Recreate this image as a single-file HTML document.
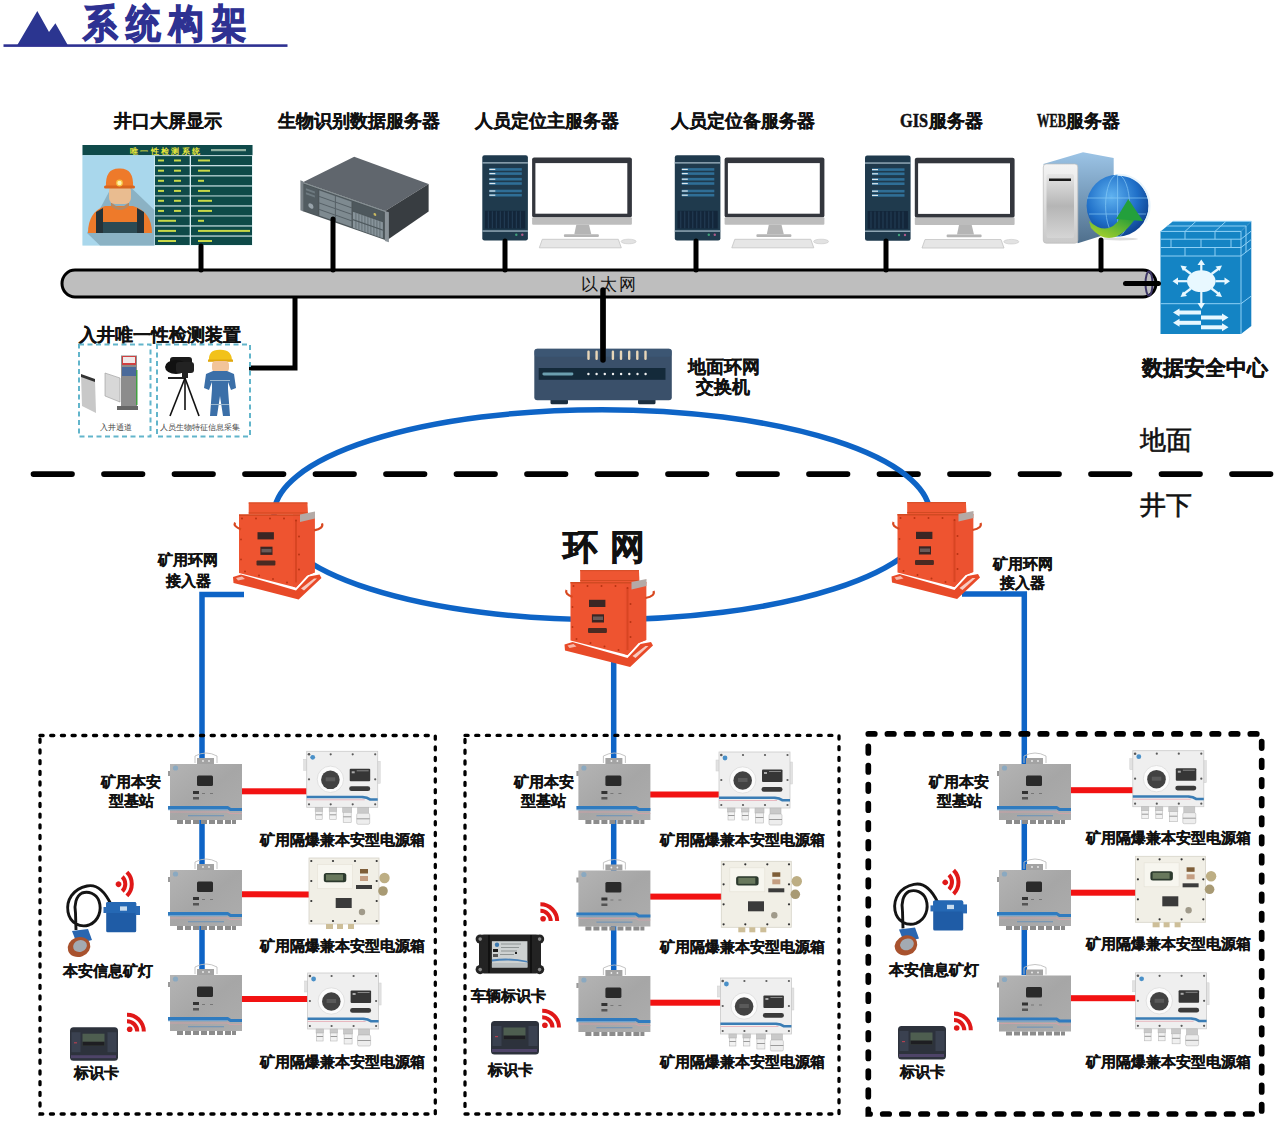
<!DOCTYPE html>
<html><head><meta charset="utf-8">
<style>
html,body{margin:0;padding:0;background:#fff;width:1286px;height:1134px;overflow:hidden}
svg{display:block}
text{font-family:"Liberation Sans",sans-serif}
.b{font-weight:bold}
</style></head><body>
<svg width="1286" height="1134" viewBox="0 0 1286 1134">
<defs>
<linearGradient id="gStation" x1="0" y1="0" x2="1" y2="1">
<stop offset="0" stop-color="#B4B4B4"/><stop offset="0.5" stop-color="#A6A6A6"/><stop offset="1" stop-color="#ADADAD"/>
</linearGradient>
<linearGradient id="gWebSide" x1="0" y1="0" x2="0" y2="1">
<stop offset="0" stop-color="#9CC4E6"/><stop offset="1" stop-color="#4F6F8C"/>
</linearGradient>
<linearGradient id="gWebFront" x1="0" y1="0" x2="0" y2="1">
<stop offset="0" stop-color="#F4F4F4"/><stop offset="1" stop-color="#C9C9C9"/>
</linearGradient>
<linearGradient id="gWebPanel" x1="0" y1="0" x2="0" y2="1">
<stop offset="0" stop-color="#E6E6E6"/><stop offset="0.5" stop-color="#B5B5B5"/><stop offset="1" stop-color="#D5D5D5"/>
</linearGradient>
<radialGradient id="gGlobe" cx="0.4" cy="0.35" r="0.7">
<stop offset="0" stop-color="#5FB2F0"/><stop offset="0.6" stop-color="#1F6FC8"/><stop offset="1" stop-color="#0D3F8C"/>
</radialGradient>
<linearGradient id="gArrow" x1="0" y1="1" x2="1" y2="0">
<stop offset="0" stop-color="#B8D82A"/><stop offset="1" stop-color="#1E9A3A"/>
</linearGradient>

<!-- base station: origin top-left of body, 72x56 -->
<g id="station">
<path d="M25,-1 V-8 Q36,-14 47,-8 V-1" fill="none" stroke="#BDBDBD" stroke-width="0.9"/>
<rect x="27" y="-6" width="17" height="6" fill="#A3A3A3"/>
<circle cx="33" cy="-3" r="0.9" fill="#eee"/><circle cx="39" cy="-3" r="0.9" fill="#eee"/>
<rect x="-2" y="7" width="2.5" height="5" fill="#9A9A9A"/>
<rect x="0" y="0" width="72" height="56" fill="url(#gStation)"/>
<circle cx="5.5" cy="4" r="2.6" fill="#7FA6C4" opacity="0.8"/>
<rect x="27" y="11.5" width="16" height="10.5" rx="1.5" fill="#2A2A2A"/>
<rect x="23" y="27" width="6" height="3" fill="#333"/>
<rect x="23" y="33" width="6" height="2.5" fill="#555"/>
<rect x="32" y="29" width="3" height="1" fill="#777"/><rect x="40" y="29" width="3" height="1" fill="#777"/>
<path d="M-2,42 H58 L61,44 H72 V47 H60 L57,45 H-2 Z" fill="#2F7BBF"/>
<rect x="-2" y="45" width="59" height="1.2" fill="#6FA2CE"/>
<path d="M0,47.5 H58 L61,49 H72 V50 H60 L57,48.5 H0 Z" fill="#D9A0A8" opacity="0.7"/>
<rect x="18" y="51" width="36" height="1.3" fill="#6B93B8" opacity="0.8"/>
<g fill="#8C8C8C">
<rect x="7" y="56" width="6" height="4"/><rect x="15" y="56" width="6" height="4"/><rect x="23" y="56" width="6" height="4"/><rect x="31" y="56" width="6" height="4"/>
<rect x="39" y="56" width="6" height="4"/><rect x="47" y="56" width="6" height="4"/><rect x="55" y="56" width="6" height="4"/><rect x="62" y="56" width="4" height="4"/>
</g>
</g>

<!-- power box A (round gauge): origin top-left, 71x56 -->
<g id="powerA">
<rect x="-3" y="8" width="3.5" height="11" fill="#E2E2E2" stroke="#CFCFCF" stroke-width="0.5"/>
<rect x="70.5" y="10" width="3" height="22" fill="#E2E2E2" stroke="#CFCFCF" stroke-width="0.5"/>
<rect x="0" y="0" width="71" height="56" fill="#EFEFEF" stroke="#CACACA" stroke-width="0.8"/>
<g fill="#5A5A5A">
<circle cx="2.3" cy="3" r="1.3"/><circle cx="24" cy="3" r="1.1"/><circle cx="46" cy="3" r="1.1"/><circle cx="68.5" cy="3" r="1.1"/>
<circle cx="2.3" cy="28" r="1.1"/><circle cx="68.5" cy="28" r="1.1"/>
<circle cx="2.3" cy="53" r="1.1"/><circle cx="24" cy="53" r="1.1"/><circle cx="46" cy="53" r="1.1"/><circle cx="68.5" cy="53" r="1.1"/>
</g>
<circle cx="6" cy="6" r="2.4" fill="#4A90C8"/>
<circle cx="23.7" cy="28" r="13.2" fill="#FBFBFB" stroke="#DADADA" stroke-width="0.8"/>
<circle cx="23.7" cy="28.5" r="9.3" fill="#424242"/>
<rect x="19" y="26" width="9.5" height="4" fill="#5A5A5A"/>
<rect x="43" y="17.5" width="20.5" height="12.5" rx="1" fill="#363636"/>
<rect x="45" y="20" width="3" height="2" fill="#AAA"/><rect x="50" y="19" width="12" height="1" fill="#888"/>
<rect x="42.5" y="35" width="21" height="4.7" rx="2.3" fill="#3A3A3A"/>
<path d="M0,44.5 H56 Q61,44.5 64,47 H71 V49.5 H63 Q60,47 55,47 H0 Z" fill="#3A7DB5"/>
<rect x="0" y="48" width="58" height="1" fill="#E8B8C0"/>
<g stroke="#B8B8B8" stroke-width="0.6">
<rect x="8.5" y="56" width="7.5" height="4" fill="#C9C9C9"/><rect x="9" y="60" width="6.5" height="8" fill="#F2F2F2"/>
<rect x="22.5" y="56" width="7.5" height="4" fill="#C9C9C9"/><rect x="23" y="60" width="6.5" height="8" fill="#F2F2F2"/>
<rect x="36" y="56" width="9" height="5" fill="#C9C9C9"/><rect x="36.5" y="61" width="8" height="10" fill="#F0F0F0"/>
<rect x="51" y="56" width="11" height="6" fill="#C9C9C9"/><rect x="50" y="62" width="13" height="11" rx="1.5" fill="#EDEDED"/>
</g>
<g fill="#9A9A9A"><rect x="9" y="63" width="6.5" height="1"/><rect x="23" y="63" width="6.5" height="1"/><rect x="36.5" y="65" width="8" height="1"/><rect x="50" y="67" width="13" height="1"/></g>
</g>

<!-- power box B (cream): origin top-left, 70x66 -->
<g id="powerB">
<rect x="0" y="0" width="70" height="66" fill="#F1EFE6" stroke="#D6D3C8" stroke-width="0.8"/>
<rect x="8.5" y="6.5" width="35" height="24" fill="#F7F6EF" stroke="#E4E1D6" stroke-width="0.6"/>
<rect x="14.8" y="15" width="22.5" height="9.3" rx="2.5" fill="#2C3A2E"/>
<rect x="17" y="16.5" width="17" height="6" fill="#68785C"/>
<rect x="51" y="11" width="8" height="4.5" fill="#7E5E38"/>
<rect x="51" y="18" width="8" height="5" fill="#C49E82"/>
<rect x="47" y="27" width="16" height="4" fill="#3C3C3C"/>
<rect x="26.7" y="40" width="16" height="10" fill="#3A3A3A"/>
<circle cx="53" cy="54" r="3.2" fill="#A09A8A"/>
<g fill="#333">
<circle cx="2.3" cy="3" r="1.1"/><circle cx="24" cy="3" r="1.1"/><circle cx="46" cy="3" r="1.1"/><circle cx="67.7" cy="3" r="1.1"/>
<circle cx="2.3" cy="23" r="1.1"/><circle cx="67.7" cy="23" r="1.1"/><circle cx="2.3" cy="43" r="1.1"/><circle cx="67.7" cy="43" r="1.1"/>
<circle cx="2.3" cy="63" r="1.1"/><circle cx="24" cy="63" r="1.1"/><circle cx="46" cy="63" r="1.1"/><circle cx="67.7" cy="63" r="1.1"/>
</g>
<circle cx="75.5" cy="20" r="5.2" fill="#BDAE84"/>
<circle cx="74" cy="33" r="4.8" fill="#A89A74"/>
<g fill="#CDBE98"><rect x="17" y="66" width="7" height="5"/><rect x="28" y="66" width="6" height="5"/><rect x="39" y="66" width="6" height="5"/></g>
</g>

<!-- converter: origin front top-left -->
<g id="conv">
<polygon points="-6,62.5 -5.5,68.5 59.6,85 82.5,63.5 80.5,60 70,62 57,76 2,60" fill="#E84A28"/>
<polygon points="62,74 75,64 78,64 65,76" fill="#FFFFFF" opacity="0.7"/>
<polygon points="-3,63.5 3,62 6,64.5 -1,66" fill="#FFFFFF" opacity="0.6"/>
<polygon points="9.7,-12 68.4,-12 69,0 9.7,0" fill="#EE5632"/>
<rect x="9.7" y="-12" width="58.7" height="1.2" fill="#D9502A"/><rect x="9.7" y="-2" width="58.7" height="1" fill="#D24A22"/>
<polygon points="0,0 75.7,0 75.7,58 68,61 57,73 0,58.5" fill="#EE5430"/>
<polygon points="54,0 75.7,0 75.7,58 68,61 57,73 54,72" fill="#EC5230"/>
<rect x="56" y="6" width="2" height="62" fill="#D84522"/>
<rect x="0" y="0" width="75.7" height="1.5" fill="#D24A22"/>
<path d="M2,15 Q-6,12 -4,8" fill="none" stroke="#D84820" stroke-width="2.2"/>
<path d="M75,16 Q85,14 83,9" fill="none" stroke="#D84820" stroke-width="2.2"/>
<polygon points="61,0 76,-3 76,4 61,7.6" fill="#B4AAA6"/>
<rect x="18.5" y="17.8" width="16.4" height="7.2" fill="#3A2624"/>
<rect x="21.4" y="32.3" width="12.1" height="8.2" fill="#3A2624"/>
<rect x="22.5" y="34.5" width="10" height="3.5" fill="#6A5A58"/>
<rect x="17.5" y="46" width="18.9" height="5" rx="1" fill="#4A2A22"/>
<g fill="#B83414">
<circle cx="3" cy="4" r="1"/><circle cx="17" cy="4" r="1"/><circle cx="31" cy="4" r="1"/><circle cx="45" cy="4" r="1"/><circle cx="57" cy="6" r="1"/>
<circle cx="6" cy="57" r="1"/><circle cx="20" cy="61" r="1"/><circle cx="34" cy="64.5" r="1"/><circle cx="48" cy="68" r="1"/>
<circle cx="60" cy="22" r="1"/><circle cx="60" cy="40" r="1"/><circle cx="60" cy="55" r="1"/>
<circle cx="2" cy="25" r="0.9"/><circle cx="2" cy="45" r="0.9"/>
</g>
</g>

<!-- desktop pc: origin tower top-left (482,155) -->
<g id="pc">
<rect x="0" y="0" width="45.6" height="85.2" rx="2.2" fill="#1F3A4D"/>
<rect x="0" y="6.8" width="45.6" height="1.5" fill="#8FA6B4"/>
<g fill="#2F6E96">
<rect x="7" y="12.8" width="32.5" height="2.6"/><rect x="7" y="17" width="32.5" height="2.6"/>
<rect x="7" y="22.6" width="32.5" height="2.6"/><rect x="7" y="26.9" width="32.5" height="2.6"/>
<rect x="7" y="34.4" width="32.5" height="2.6"/><rect x="7" y="38.6" width="32.5" height="2.6"/>
</g>
<g fill="#DDE8EE">
<rect x="7" y="13.5" width="6" height="1.2"/><rect x="7" y="17.7" width="6" height="1.2"/>
<rect x="7" y="23.3" width="6" height="1.2"/><rect x="7" y="27.6" width="6" height="1.2"/>
<rect x="7" y="35.1" width="6" height="1.2"/><rect x="7" y="39.3" width="6" height="1.2"/>
</g>
<rect x="2.6" y="55.5" width="40.3" height="17.8" fill="#13263A"/>
<g stroke="#2A4660" stroke-width="0.8">
<line x1="6" y1="56" x2="6" y2="73"/><line x1="10" y1="56" x2="10" y2="73"/><line x1="14" y1="56" x2="14" y2="73"/><line x1="18" y1="56" x2="18" y2="73"/>
<line x1="22" y1="56" x2="22" y2="73"/><line x1="26" y1="56" x2="26" y2="73"/><line x1="30" y1="56" x2="30" y2="73"/><line x1="34" y1="56" x2="34" y2="73"/><line x1="38" y1="56" x2="38" y2="73"/>
</g>
<rect x="0" y="75" width="45.6" height="1.5" fill="#8FA6B4"/>
<circle cx="34" cy="79.5" r="1.2" fill="#3FA07A"/><circle cx="40" cy="79.5" r="1.2" fill="#B05A8A"/>
<rect x="49.8" y="2.3" width="99.8" height="60" rx="2" fill="#33363D"/>
<rect x="49.8" y="62" width="99.8" height="7.4" rx="1" fill="#BDBDBD"/>
<rect x="53.1" y="7.8" width="91.9" height="50.6" fill="#FFFFFF"/>
<path d="M94,69.4 H106.7 L109,79 H92 Z" fill="#B5B5B5"/>
<rect x="81.6" y="79" width="35" height="2.8" rx="1" fill="#B5B5B5"/>
<path d="M60,84 H136 L139,92.5 H57 Z" fill="#E6E6E6" stroke="#C4C4C4" stroke-width="0.8"/>
<ellipse cx="146.3" cy="86.2" rx="7.5" ry="2.3" fill="#E2E2E2" stroke="#C8C8C8" stroke-width="0.6"/>
</g>

<!-- wifi icon: origin at arc center (RSS style) -->
<g id="wifi" fill="none" stroke="#E01818" stroke-width="4">
<circle cx="2.7" cy="-2.3" r="2.8" fill="#E01818" stroke="none"/>
<path d="M0,-10.3 A10.3,10.3 0 0 1 10.3,0"/>
<path d="M0,-16.8 A16.8,16.8 0 0 1 16.8,0"/>
</g>

<!-- tag card: origin top-left, 48x33 -->
<g id="tag">
<rect x="0" y="0" width="48" height="33.5" rx="3.5" fill="#2D323C"/>
<rect x="1.5" y="5" width="9" height="20" fill="#3A4150"/>
<rect x="37.5" y="5" width="9" height="20" fill="#3A4150"/>
<rect x="12.5" y="6.5" width="22" height="12" fill="#4E5E50"/>
<rect x="12.5" y="14.5" width="22" height="4" fill="#1E1E22"/>
<rect x="1" y="28" width="45" height="3" fill="#4E4468"/>
<rect x="4" y="15" width="3" height="1.2" fill="#B04050"/>
</g>
</defs>
<!-- header -->
<polygon points="17,45.5 37.3,11 49,32 55.4,23.3 68,45.5" fill="#2B3590"/>
<text transform="translate(83,37.2) scale(0.89,1)" font-size="39" letter-spacing="9.2" class="b" fill="#2E3192" stroke="#2E3192" stroke-width="1.3">系统构架</text>
<rect x="3.5" y="44.3" width="284" height="2.6" fill="#2E3192"/>

<!-- top labels -->
<g font-size="18" class="b" fill="#111" stroke="#111" stroke-width="0.25">
<text x="114" y="127">井口大屏显示</text>
<text x="278" y="127">生物识别数据服务器</text>
<text x="475" y="127">人员定位主服务器</text>
<text x="671" y="127">人员定位备服务器</text>
<text x="929" y="127">服务器</text>
<text x="1066" y="127">服务器</text>
</g>
<g font-size="18" fill="#111" font-weight="bold" stroke="#111" stroke-width="0.5">
<text x="900" y="127" textLength="28" lengthAdjust="spacingAndGlyphs" style="font-family:'Liberation Serif',serif">GIS</text>
<text x="1037" y="127" textLength="29" lengthAdjust="spacingAndGlyphs" style="font-family:'Liberation Serif',serif">WEB</text>
</g>

<!-- big screen -->
<g>
<rect x="82.5" y="145" width="170" height="100.5" fill="#DCEFF3"/>
<rect x="82.5" y="145" width="170" height="10.2" fill="#0F4A4A"/>
<text x="130" y="153.5" font-size="8" class="b" fill="#E6E63A" textLength="70" lengthAdjust="spacing">唯一性检测系统</text>
<rect x="211" y="149" width="35" height="2.2" fill="#8FB0A0"/>
<rect x="82.5" y="155.2" width="71.8" height="90.3" fill="#A9D7EC"/>
<polygon points="118,175 154.3,210 154.3,245.5 100,245.5 87,233" fill="#8BB2C4"/>
<path d="M88,233 Q88,212 105,206 L133,206 Q152,212 152,233 Z" fill="#EE7A2A"/>
<path d="M96,233 V212 L103,208 V233 Z M144,233 V212 L137,208 V233 Z" fill="#253238"/>
<rect x="103" y="222" width="34" height="11" fill="#2C4A54"/>
<path d="M111,202 Q120,212 129,202 L129,206 Q120,214 111,206 Z" fill="#B88860"/>
<rect x="109" y="185" width="22" height="19" rx="6" fill="#E9BC90"/>
<path d="M106,187 Q105,168 119.5,168.5 Q134,168 133,187 Z" fill="#EE7A2A"/>
<rect x="104" y="185.5" width="31" height="3" rx="1.5" fill="#D9651E"/>
<circle cx="119.5" cy="183" r="2.8" fill="#FFF3B0" stroke="#F6C040" stroke-width="1.2"/>
<g fill="#0E4A48">
<rect x="155" y="156.1" width="34.7" height="9"/><rect x="191" y="156.1" width="61" height="9"/>
<rect x="155" y="166.3" width="34.7" height="9"/><rect x="191" y="166.3" width="61" height="9"/>
<rect x="155" y="176.4" width="34.7" height="9"/><rect x="191" y="176.4" width="61" height="9"/>
<rect x="155" y="186.5" width="34.7" height="9"/><rect x="191" y="186.5" width="61" height="9"/>
<rect x="155" y="196.4" width="34.7" height="9"/><rect x="191" y="196.4" width="61" height="9"/>
<rect x="155" y="206.5" width="34.7" height="9"/><rect x="191" y="206.5" width="61" height="9"/>
<rect x="155" y="216.4" width="34.7" height="9"/><rect x="191" y="216.4" width="61" height="9"/>
<rect x="155" y="226.5" width="34.7" height="9"/><rect x="191" y="226.5" width="61" height="9"/>
<rect x="155" y="236.6" width="34.7" height="8.4"/><rect x="191" y="236.6" width="61" height="8.4"/>
</g>
<g fill="#C8D848" font-size="5.5">
<rect x="158" y="159.5" width="6" height="2" /><rect x="174" y="159.5" width="7" height="2"/><rect x="198" y="159.5" width="12" height="2"/>
<rect x="158" y="169.7" width="6" height="2" /><rect x="174" y="169.7" width="7" height="2"/><rect x="198" y="169.7" width="12" height="2"/>
<rect x="158" y="179.8" width="6" height="2" /><rect x="174" y="179.8" width="7" height="2"/><rect x="198" y="179.8" width="6" height="2"/>
<rect x="158" y="189.9" width="6" height="2" /><rect x="174" y="189.9" width="7" height="2"/><rect x="198" y="189.9" width="12" height="2"/>
<rect x="158" y="199.8" width="6" height="2" /><rect x="174" y="199.8" width="7" height="2"/><rect x="198" y="199.8" width="14" height="2"/>
<rect x="158" y="209.9" width="6" height="2" /><rect x="174" y="209.9" width="7" height="2"/><rect x="198" y="209.9" width="14" height="2"/>
<rect x="158" y="219.8" width="18" height="2" /><rect x="198" y="219.8" width="6" height="2"/>
<rect x="158" y="229.9" width="18" height="2" /><rect x="198" y="229.9" width="52" height="2"/>
<rect x="158" y="240" width="18" height="2" /><rect x="198" y="240" width="14" height="2"/>
</g>
</g>

<!-- rack server -->
<g>
<polygon points="302.9,182.2 354.2,156.8 428.6,183.9 385.2,211" fill="#60666D"/>
<polygon points="385.2,211 428.6,183.9 428.6,211.5 386.9,240.3" fill="#383D41"/>
<g transform="translate(302.9,182.2) skewY(19.3)">
<rect x="0" y="0" width="83" height="29" fill="#4C5559"/>
<rect x="0" y="0" width="83" height="1" fill="#8A9498"/>
<rect x="1" y="2" width="14" height="26" fill="#525C61"/>
<circle cx="8" cy="21" r="2.6" fill="#98A3AA"/>
<rect x="3" y="5" width="9" height="2" fill="#6E7A80"/><rect x="3" y="9" width="9" height="2" fill="#6E7A80"/>
<rect x="16" y="2" width="33" height="26" fill="#566066"/>
<g fill="#7E8A90">
<rect x="16.5" y="2.5" width="15.5" height="5.6"/><rect x="33" y="2.5" width="15.5" height="5.6"/>
<rect x="16.5" y="9" width="15.5" height="5.6"/><rect x="33" y="9" width="15.5" height="5.6"/>
<rect x="16.5" y="15.5" width="15.5" height="5.6"/><rect x="33" y="15.5" width="15.5" height="5.6"/>
<rect x="16.5" y="22" width="15.5" height="5.6"/><rect x="33" y="22" width="15.5" height="5.6"/>
</g>
<rect x="50" y="2" width="30" height="9" fill="#4E585D"/>
<circle cx="72" cy="7" r="1.4" fill="#C8B860"/>
<rect x="50" y="12" width="30" height="16" fill="#87939A"/>
<g stroke="#5E696F" stroke-width="0.8">
<line x1="53" y1="12" x2="53" y2="28"/><line x1="56" y1="12" x2="56" y2="28"/><line x1="59" y1="12" x2="59" y2="28"/><line x1="62" y1="12" x2="62" y2="28"/>
<line x1="65" y1="12" x2="65" y2="28"/><line x1="68" y1="12" x2="68" y2="28"/><line x1="71" y1="12" x2="71" y2="28"/><line x1="74" y1="12" x2="74" y2="28"/><line x1="77" y1="12" x2="77" y2="28"/>
<line x1="50" y1="20" x2="80" y2="20" stroke="#4E585D" stroke-width="1.2"/>
</g>
<rect x="-2.5" y="-1" width="3" height="30" fill="#7A8288"/>
<rect x="82" y="0" width="4" height="30" fill="#8A9298"/>
</g>
</g>

<!-- PCs -->
<use href="#pc" x="482.3" y="155.3"/>
<use href="#pc" x="674.8" y="155.3"/>
<use href="#pc" x="865" y="155.5"/>

<!-- web server -->
<g>
<polygon points="1043.3,164 1083,152.3 1113.7,158 1113.7,232 1077.8,243.2" fill="url(#gWebSide)"/>
<rect x="1043.3" y="164" width="34.5" height="79.2" rx="3" fill="url(#gWebFront)" stroke="#BBBBBB" stroke-width="0.7"/>
<rect x="1046.5" y="174" width="27.5" height="64" rx="2" fill="url(#gWebPanel)"/>
<rect x="1049" y="178.5" width="22" height="2.5" fill="#1A1A1A"/>
<circle cx="1117.6" cy="205.7" r="31" fill="url(#gGlobe)"/>
<g fill="none" stroke="#8FD0F8" stroke-width="0.9" opacity="0.7">
<ellipse cx="1117.6" cy="205.7" rx="12" ry="31"/>
<line x1="1087" y1="198" x2="1148" y2="198"/><line x1="1089" y1="214" x2="1146" y2="214"/><line x1="1117.6" y1="175" x2="1117.6" y2="237"/>
</g>
<path d="M1117.6,174.7 A31,31 0 0 1 1145,222" fill="none" stroke="#E8F4FC" stroke-width="2"/>
<path d="M1089,221 Q1108,238 1121,217 L1135,219 Q1112,252 1091,228 Z" fill="url(#gArrow)"/>
<polygon points="1128.3,199 1116,219 1143,221" fill="#23A03C"/>
<ellipse cx="1120" cy="239" rx="18" ry="1.5" fill="#DDD"/>
</g>

<!-- firewall -->
<g>
<polygon points="1160.5,231.4 1173,221.3 1251.3,221.3 1241,231.4" fill="#1A88C8"/>
<polygon points="1241,231.4 1251.3,221.3 1251.3,326 1241,334" fill="#1580C2"/>
<rect x="1160.5" y="231.4" width="80.5" height="102.6" fill="#1484C4"/>
<g stroke="#8FD0F5" stroke-width="1" fill="none">
<line x1="1160.5" y1="231.4" x2="1241" y2="231.4"/><line x1="1160.5" y1="239.2" x2="1241" y2="239.2"/><line x1="1160.5" y1="247.5" x2="1241" y2="247.5"/><line x1="1160.5" y1="256" x2="1241" y2="256"/><line x1="1167" y1="226" x2="1246" y2="226"/><line x1="1185" y1="231.4" x2="1196" y2="221.3"/><line x1="1215" y1="231.4" x2="1226" y2="221.3"/>
<line x1="1185" y1="231.4" x2="1185" y2="239.2"/><line x1="1215" y1="231.4" x2="1215" y2="239.2"/>
<line x1="1171" y1="239.2" x2="1171" y2="247.5"/><line x1="1201" y1="239.2" x2="1201" y2="247.5"/><line x1="1231" y1="239.2" x2="1231" y2="247.5"/>
<line x1="1185" y1="247.5" x2="1185" y2="256"/><line x1="1215" y1="247.5" x2="1215" y2="256"/>
<line x1="1160.5" y1="303.7" x2="1240.4" y2="303.7"/><line x1="1241" y1="303.7" x2="1251.3" y2="296"/>
<line x1="1241" y1="231.4" x2="1241" y2="334"/>
<line x1="1241" y1="239.2" x2="1251.3" y2="231"/><line x1="1241" y1="247.5" x2="1251.3" y2="239.5"/><line x1="1241" y1="256" x2="1251.3" y2="248"/><line x1="1246" y1="226" x2="1246" y2="252"/>
<line x1="1173" y1="221.3" x2="1251.3" y2="221.3"/>
</g>
<ellipse cx="1201.3" cy="281.2" rx="14.3" ry="10.9" fill="#E8F8FF"/>
<g stroke="#E8F8FF" stroke-width="2.2" fill="#E8F8FF">
<line x1="1201.3" y1="271" x2="1201.3" y2="263"/><line x1="1201.3" y1="291" x2="1201.3" y2="305"/>
<line x1="1187" y1="281.2" x2="1175" y2="281.2"/><line x1="1215.5" y1="281.2" x2="1227" y2="281.2"/>
<line x1="1191" y1="274" x2="1183" y2="268"/><line x1="1211.5" y1="274" x2="1219.5" y2="268"/>
<line x1="1191" y1="288.5" x2="1183" y2="294.5"/><line x1="1211.5" y1="288.5" x2="1219.5" y2="294.5"/>
</g>
<g fill="#E8F8FF">
<polygon points="1201.3,259.5 1197.5,265 1205,265"/><polygon points="1201.3,309 1197.5,303 1205,303"/>
<polygon points="1172.5,281.2 1178,277.5 1178,285"/><polygon points="1230,281.2 1224.5,277.5 1224.5,285"/>
<polygon points="1180.5,265.5 1187,266.5 1183,271"/><polygon points="1222,265.5 1215.5,266.5 1219.5,271"/>
<polygon points="1180.5,297 1187,296 1183,291.5"/><polygon points="1222,297 1215.5,296 1219.5,291.5"/>
</g>
<g fill="#E8F8FF">
<rect x="1178" y="310.5" width="23" height="4"/><rect x="1178" y="320.8" width="23" height="4"/>
<rect x="1201" y="315.5" width="22" height="4"/><rect x="1201" y="325.3" width="22" height="4"/>
<polygon points="1173,312.5 1179.5,308.5 1179.5,316.5"/><polygon points="1173,322.8 1179.5,318.8 1179.5,326.8"/>
<polygon points="1228.5,317.5 1222,313.5 1222,321.5"/><polygon points="1228.5,327.3 1222,323.3 1222,331.3"/>
</g>
</g>
<text x="1142" y="375" font-size="21" class="b" fill="#111" stroke="#111" stroke-width="0.3">数据安全中心</text>

<!-- bus -->
<path d="M75,270 H1143 A13,13.5 0 0 1 1143,297 H75 A13,13.5 0 0 1 75,270 Z" fill="#BEBEBE" stroke="#000" stroke-width="3"/>
<ellipse cx="1149" cy="283.5" rx="3.5" ry="12" fill="none" stroke="#3C3566" stroke-width="2"/>
<rect x="1123" y="281" width="38" height="5" rx="2.5" fill="#000"/>
<text x="608.5" y="290" font-size="16.5" text-anchor="middle" fill="#111" textLength="55" lengthAdjust="spacing">以太网</text>

<!-- connectors -->
<g stroke="#000" stroke-width="5" stroke-linecap="round" fill="none">
<line x1="201" y1="246" x2="201" y2="270"/>
<line x1="333" y1="219" x2="333" y2="270"/>
<line x1="505" y1="241" x2="505" y2="270"/>
<line x1="696" y1="241" x2="696" y2="270"/>
<line x1="886" y1="241" x2="886" y2="270"/>
<line x1="1101" y1="240" x2="1101" y2="270"/>
<line x1="603" y1="297" x2="603" y2="360"/>
<polyline points="295,297 295,368 249,368" stroke-linecap="butt"/>
</g>

<!-- entry device -->
<text x="79" y="341" font-size="18" class="b" fill="#111" stroke="#111" stroke-width="0.25">入井唯一性检测装置</text>
<g fill="none" stroke="#62B5CB" stroke-width="2" stroke-dasharray="5 3.5">
<rect x="79" y="344.5" width="71.5" height="92"/>
<rect x="157" y="344.5" width="93" height="92"/>
</g>
<g>
<polygon points="81,375 95,380 96,413 82,406" fill="#C8C8C8"/>
<polygon points="81,374 95,379 95,382 81,377" fill="#333"/>
<polygon points="105,373 120,378 120,402 105,396" fill="#D8D8D8" stroke="#999" stroke-width="0.6"/>
<rect x="121" y="355.5" width="16" height="53.5" fill="#8C8C8C"/>
<rect x="122" y="356" width="14" height="9" fill="#D04040"/>
<rect x="123" y="357" width="12" height="6" fill="#F0E8E8"/>
<rect x="122" y="367" width="14" height="9" fill="#4A6A9A"/>
<rect x="136" y="370" width="1.5" height="35" fill="#40A040"/>
<rect x="117" y="406" width="21" height="4" fill="#666"/>
</g>
<g>
<rect x="170" y="357" width="22" height="9" rx="3" fill="#1A1A1A"/>
<ellipse cx="176" cy="367" rx="11" ry="7" fill="#111"/>
<rect x="176" y="362" width="18" height="11" rx="3" fill="#222"/>
<rect x="182" y="373" width="6" height="5" fill="#222"/>
<rect x="168" y="377" width="17" height="2" fill="#222"/>
<g stroke="#111" stroke-width="1.6"><line x1="185" y1="378" x2="170" y2="416"/><line x1="185" y1="378" x2="199" y2="416"/><line x1="185" y1="378" x2="185" y2="410"/></g>
<path d="M209,361 Q208,349.5 220,349.8 Q232,349.5 232,361 Z" fill="#F2C21A"/>
<rect x="208" y="359.5" width="25" height="2.3" fill="#E0A810"/>
<rect x="212" y="361" width="17" height="11" rx="4" fill="#F2C49A"/>
<path d="M206,374 L213,371 H227 L234,374 L236,388 L231,390 L228,382 V389 L230,416 H223 L220,396 L217,416 H210 L212,389 V382 L209,390 L204,388 Z" fill="#3B6FA8"/>
<g fill="#9CB8D0"><rect x="210" y="380" width="20" height="1"/><rect x="211" y="404" width="18" height="1"/></g>
</g>
<g font-size="8.3" fill="#444">
<text x="99.5" y="430">入井通道</text>
<text x="159.5" y="430">人员生物特征信息采集</text>
</g>

<!-- switch -->
<g>
<rect x="550.5" y="399" width="17.5" height="5.3" rx="1.5" fill="#1C2F3F"/>
<rect x="638" y="399" width="17.5" height="5.3" rx="1.5" fill="#1C2F3F"/>
<rect x="534.3" y="348.7" width="137.5" height="51.6" rx="3" fill="#3A506A"/>
<rect x="534.3" y="348.7" width="137.5" height="8" rx="3" fill="#3E5A7A" opacity="0.6"/>
<rect x="538.7" y="368" width="126.8" height="11.8" fill="#142A3A"/>
<rect x="542.4" y="372.6" width="31" height="2.8" rx="1.4" fill="#6B9FB0"/>
<g fill="#F2F2F2">
<circle cx="588.4" cy="374" r="1.2"/><circle cx="596.6" cy="374" r="1.2"/><circle cx="604.8" cy="374" r="1.2"/><circle cx="613" cy="374" r="1.2"/>
<circle cx="621.1" cy="374" r="1.2"/><circle cx="629.3" cy="374" r="1.2"/><circle cx="637.5" cy="374" r="1.2"/><circle cx="645.6" cy="374" r="1.2"/>
</g>
<g fill="#E8D6B8">
<rect x="587.3" y="350.6" width="2.4" height="9.3" rx="1.2"/><rect x="595.4" y="350.6" width="2.4" height="9.3" rx="1.2"/>
<rect x="611.7" y="350.6" width="2.4" height="9.3" rx="1.2"/><rect x="619.8" y="350.6" width="2.4" height="9.3" rx="1.2"/>
<rect x="628" y="350.6" width="2.4" height="9.3" rx="1.2"/><rect x="636.1" y="350.6" width="2.4" height="9.3" rx="1.2"/><rect x="644.3" y="350.6" width="2.4" height="9.3" rx="1.2"/>
</g>
</g>
<line x1="603" y1="290" x2="603" y2="360" stroke="#000" stroke-width="5.5" stroke-linecap="round"/>
<g font-size="17.5" class="b" fill="#111" stroke="#111" stroke-width="0.25">
<text x="688" y="372.5">地面环网</text>
<text x="696" y="393">交换机</text>
</g>

<!-- separator -->
<line x1="33.5" y1="474.1" x2="1272" y2="474.1" stroke="#000" stroke-width="5.7" stroke-dasharray="38.5 32" stroke-linecap="round"/>
<text x="1140" y="449" font-size="26" fill="#111" stroke="#111" stroke-width="0.6">地面</text>
<text x="1140" y="514" font-size="26" fill="#111" stroke="#111" stroke-width="0.6">井下</text>

<!-- ring -->
<ellipse cx="602" cy="514.7" rx="328" ry="105" fill="none" stroke="#0E64C6" stroke-width="5.5"/>

<!-- blue drop lines -->
<g stroke="#0E64C6" stroke-width="5.5" fill="none">
<polyline points="244,594.5 202,594.5 202,975"/>
<line x1="613.7" y1="660" x2="613.7" y2="976"/>
<polyline points="962,594 1024.3,594 1024.3,975"/>
</g>

<!-- converters -->
<use href="#conv" x="239" y="514.4"/>
<use href="#conv" x="570.5" y="582"/>
<use href="#conv" x="897.5" y="514"/>

<g font-size="34.5" class="b" fill="#111" stroke="#111" stroke-width="0.7"><text x="563" y="559">环</text><text x="609.5" y="559">网</text></g>
<g font-size="15" class="b" fill="#111" stroke="#111" stroke-width="0.25">
<text x="158" y="565">矿用环网</text><text x="166" y="586">接入器</text>
<text x="992.5" y="569">矿用环网</text><text x="1000" y="588">接入器</text>
</g>

<!-- dashed boxes -->
<g fill="none" stroke="#000" stroke-linecap="round">
<rect x="40" y="735.5" width="395.3" height="378.5" stroke-width="3.3" stroke-dasharray="3.1 7.6"/>
<rect x="465" y="735.4" width="374" height="378.6" stroke-width="3.3" stroke-dasharray="3.1 7.6"/>
<rect x="868.3" y="733.9" width="393.4" height="380.1" stroke-width="5.7" stroke-dasharray="6.5 12.6"/>
</g>

<!-- red links -->
<g fill="#F21212">
<rect x="241" y="788.3" width="67" height="6"/><polygon points="241,891.2 310,891.5 310,897.5 241,897.2"/><rect x="241" y="996" width="68" height="6"/>
<rect x="650" y="791.5" width="70" height="6"/><rect x="650" y="893.6" width="72" height="6"/><rect x="650" y="999.7" width="71" height="6"/>
<rect x="1071" y="787.2" width="62.5" height="6"/><rect x="1071" y="889.7" width="65" height="6"/><rect x="1071" y="995.2" width="65" height="6"/>
</g>
<!-- stations -->
<use href="#station" x="170" y="764"/><use href="#station" x="170" y="870"/><use href="#station" x="170" y="975"/>
<use href="#station" x="578.4" y="764"/><use href="#station" x="578.4" y="870.5"/><use href="#station" x="578.4" y="976"/>
<use href="#station" x="999" y="764"/><use href="#station" x="999" y="870"/><use href="#station" x="999" y="975.5"/>

<!-- power boxes -->
<use href="#powerA" x="306.7" y="751.3"/><use href="#powerB" x="309" y="858"/><use href="#powerA" x="307.6" y="973"/>
<use href="#powerA" x="719" y="752"/><use href="#powerB" x="721.3" y="861.3"/><use href="#powerA" x="720.4" y="978"/>
<use href="#powerA" x="1132.8" y="750.7"/><use href="#powerB" x="1135.6" y="856.3"/><use href="#powerA" x="1135.6" y="972.8"/>

<g font-size="15" class="b" fill="#111" stroke="#111" stroke-width="0.25">
<text x="101" y="787">矿用本安</text><text x="109" y="806">型基站</text>
<text x="514" y="787">矿用本安</text><text x="521" y="806">型基站</text>
<text x="929" y="787">矿用本安</text><text x="937" y="806">型基站</text>
<text x="260" y="845">矿用隔爆兼本安型电源箱</text><text x="260" y="951">矿用隔爆兼本安型电源箱</text><text x="260" y="1067">矿用隔爆兼本安型电源箱</text>
<text x="660" y="845">矿用隔爆兼本安型电源箱</text><text x="660" y="952">矿用隔爆兼本安型电源箱</text><text x="660" y="1067">矿用隔爆兼本安型电源箱</text>
<text x="1086" y="843">矿用隔爆兼本安型电源箱</text><text x="1086" y="949">矿用隔爆兼本安型电源箱</text><text x="1086" y="1067">矿用隔爆兼本安型电源箱</text>
<text x="63" y="976">本安信息矿灯</text><text x="889" y="975">本安信息矿灯</text>
<text x="74" y="1078">标识卡</text><text x="488" y="1075">标识卡</text><text x="900" y="1077">标识卡</text>
<text x="470.5" y="1001">车辆标识卡</text>
</g>

<!-- lamps -->
<g id="lampL">
<path d="M110.8,904 C104,890 96,884 87,886 C73,889 66,900 68,912 C70,923 80,928 89,925 C99,921 102,910 99,901 C96,893 88,891 82,893 C76,896 74,905 75.5,913 L76,930" fill="none" stroke="#141414" stroke-width="2.9"/>
<rect x="106.2" y="902" width="30" height="30.2" rx="1.5" fill="#1F5CA6"/>
<rect x="106.2" y="902" width="30" height="11" rx="1.5" fill="#2568B4"/>
<rect x="135.5" y="906" width="4.5" height="9" fill="#2A6AB5"/>
<rect x="103.5" y="907" width="3" height="6" fill="#2A6AB5"/>
<rect x="120" y="906.4" width="7" height="4.3" fill="#C8DCEE"/>
<polygon points="72,931 88,929 92,940 77,944" fill="#2A66B0"/>
<ellipse cx="79" cy="947" rx="11.5" ry="9.8" transform="rotate(-20 79 947)" fill="#A8522E"/>
<ellipse cx="80" cy="946" rx="7" ry="5.8" transform="rotate(-20 80 946)" fill="#A3AAB2"/>
</g>
<use href="#lampL" x="827" y="-1.6"/>

<!-- cards -->
<use href="#tag" x="70" y="1027.2"/>
<use href="#tag" x="491" y="1021"/>
<use href="#tag" x="898" y="1026"/>
<g>
<rect x="479" y="934.5" width="62" height="39" rx="5" fill="#232323"/>
<circle cx="480.2" cy="939.1" r="4.6" fill="#232323"/><circle cx="539.6" cy="939.1" r="4.6" fill="#232323"/>
<circle cx="480.2" cy="969.6" r="4.6" fill="#232323"/><circle cx="539.6" cy="969.6" r="4.6" fill="#232323"/>
<g fill="#8A8A8A"><circle cx="480.2" cy="939.1" r="1.8"/><circle cx="539.6" cy="939.1" r="1.8"/><circle cx="480.2" cy="969.6" r="1.8"/><circle cx="539.6" cy="969.6" r="1.8"/></g>
<rect x="488" y="935" width="2" height="38" fill="#111"/><rect x="530" y="935" width="2" height="38" fill="#111"/>
<rect x="491.9" y="941.2" width="35.5" height="26.3" fill="#CDD1D1"/>
<circle cx="497" cy="944.7" r="2.2" fill="#3A78B0"/>
<rect x="493" y="949" width="5" height="3" fill="#1A1A1A"/><rect x="493" y="954" width="5" height="3" fill="#555"/>
<g fill="#8E9494"><rect x="501" y="943.5" width="20" height="1"/><rect x="501" y="947" width="18" height="1"/><rect x="501" y="950.5" width="16" height="1"/><rect x="500" y="954" width="14" height="1"/></g>
<rect x="515" y="952" width="2" height="2" fill="#222"/>
<path d="M491.9,959.5 Q510,957 527.4,961 V962.5 Q510,959 491.9,961.5 Z" fill="#4A82B8"/>
<rect x="491.9" y="963" width="35.5" height="4.5" fill="#B8BEC0"/>
</g>

<!-- wifi -->
<use href="#wifi" transform="translate(115,884) rotate(45)"/>
<use href="#wifi" transform="translate(941.7,882.1) rotate(45)"/>
<use href="#wifi" x="127" y="1031.5"/>
<use href="#wifi" x="540.4" y="921.1"/>
<use href="#wifi" x="542.2" y="1027.5"/>
<use href="#wifi" x="954" y="1030.3"/>
</svg>
</body></html>
